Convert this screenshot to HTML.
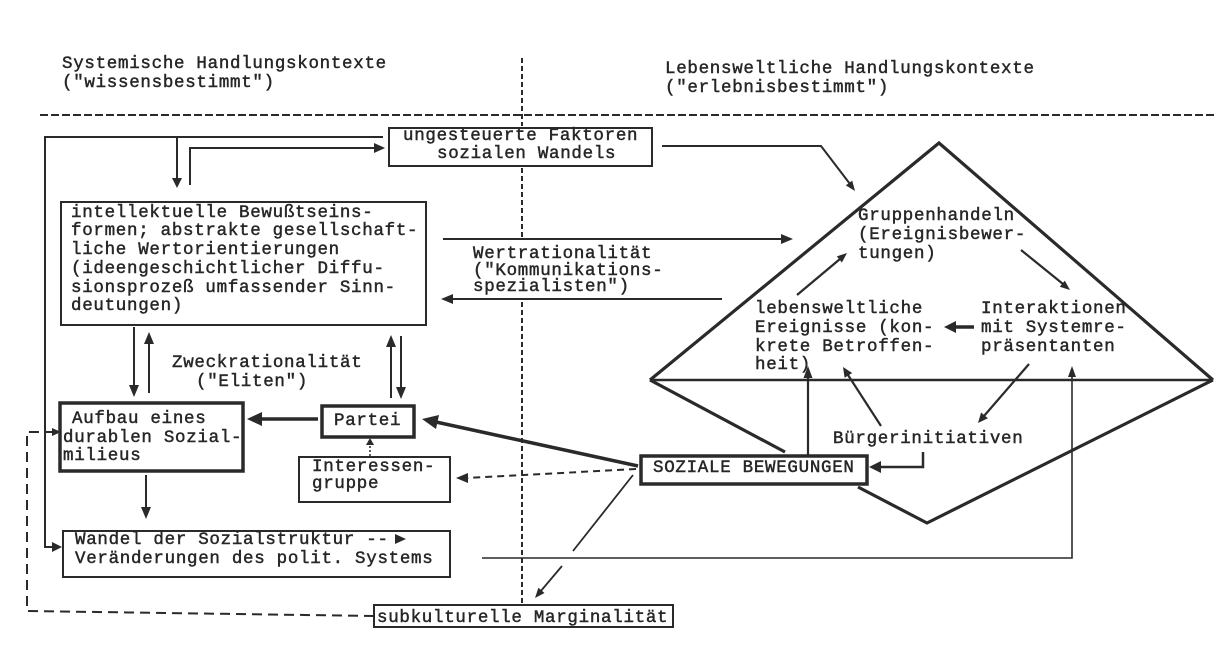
<!DOCTYPE html>
<html>
<head>
<meta charset="utf-8">
<style>
html,body{margin:0;padding:0;background:#fff;}
svg{display:block;}
text{font-family:"Liberation Mono","DejaVu Sans Mono",monospace;font-size:17.5px;letter-spacing:0.7px;fill:#262626;stroke:#262626;stroke-width:0.45px;}
</style>
</head>
<body>
<svg width="1224" height="664" viewBox="0 0 1224 664" xmlns="http://www.w3.org/2000/svg">
<rect width="1224" height="664" fill="#fff"/>

<!-- Header -->
<text x="62" y="68">Systemische Handlungskontexte</text>
<text x="62" y="87">("wissensbestimmt")</text>
<text x="665" y="73">Lebensweltliche Handlungskontexte</text>
<text x="665" y="92">("erlebnisbestimmt")</text>

<g stroke="#2a2a2a" fill="none">
  <line x1="40" y1="115" x2="1215" y2="115" stroke-width="2" stroke-dasharray="8,3"/>
  <!-- vertical divider -->
  <line x1="522" y1="58" x2="522" y2="126" stroke-width="2" stroke-dasharray="5,3"/>
  <line x1="522" y1="168" x2="522" y2="237" stroke-width="2" stroke-dasharray="5,3"/>
  <line x1="522" y1="302" x2="522" y2="604" stroke-width="2" stroke-dasharray="5,3"/>
</g>

<!-- Box: ungesteuerte Faktoren -->
<rect x="389" y="128" width="263" height="38" fill="#fff" stroke="#2a2a2a" stroke-width="2"/>
<text x="403" y="140">ungesteuerte Faktoren</text>
<text x="437" y="158">sozialen Wandels</text>

<g stroke="#2a2a2a" fill="none" stroke-width="2">
  <polyline points="383,137 45,137 45,547 53,547"/>
  <line x1="177" y1="137" x2="177" y2="179"/>
  <polyline points="190,185 190,148 375,148"/>
</g>
<g fill="#2a2a2a">
  <polygon points="62,547 52,542 52,552"/>
  <polygon points="177,188 172,178 182,178"/>
  <polygon points="385,148 374,143 374,153"/>
</g>

<!-- Box: intellektuelle -->
<rect x="61" y="202" width="365" height="123" fill="none" stroke="#2a2a2a" stroke-width="2"/>
<text x="71" y="217">intellektuelle Bewußtseins-</text>
<text x="71" y="235">formen; abstrakte gesellschaft-</text>
<text x="71" y="254">liche Wertorientierungen</text>
<text x="71" y="273">(ideengeschichtlicher Diffu-</text>
<text x="71" y="292">sionsprozeß umfassender Sinn-</text>
<text x="71" y="310">deutungen)</text>

<!-- Wertrationalität -->
<g stroke="#2a2a2a" stroke-width="2">
  <line x1="443" y1="239" x2="782" y2="239"/>
  <line x1="722" y1="299" x2="452" y2="299"/>
</g>
<g fill="#2a2a2a">
  <polygon points="793,239 781,234 781,244"/>
  <polygon points="441,299 453,294 453,304"/>
</g>
<text x="473" y="258">Wertrationalität</text>
<text x="473" y="275">("Kommunikations-</text>
<text x="473" y="291">spezialisten")</text>

<!-- double arrows -->
<g stroke="#2a2a2a" stroke-width="2">
  <line x1="134" y1="327" x2="134" y2="386"/>
  <line x1="149" y1="393" x2="149" y2="342"/>
  <line x1="391" y1="398" x2="391" y2="345"/>
  <line x1="401" y1="336" x2="401" y2="389"/>
</g>
<g fill="#2a2a2a">
  <polygon points="134,397 129,385 139,385"/>
  <polygon points="149,332 144,344 154,344"/>
  <polygon points="391,335 386,347 396,347"/>
  <polygon points="401,399 396,387 406,387"/>
</g>
<text x="172" y="367">Zweckrationalität</text>
<text x="196" y="386">("Eliten")</text>

<!-- Aufbau box -->
<rect x="60" y="403" width="183" height="68" fill="none" stroke="#2a2a2a" stroke-width="3.5"/>
<text x="72" y="423">Aufbau eines</text>
<text x="63" y="442">durablen Sozial-</text>
<text x="63" y="460">milieus</text>

<!-- Partei -->
<line x1="318" y1="419" x2="258" y2="419" stroke="#2a2a2a" stroke-width="3.5"/>
<polygon points="247,419 262,412 262,426" fill="#2a2a2a"/>
<rect x="322" y="406" width="92" height="31" fill="none" stroke="#2a2a2a" stroke-width="3.5"/>
<text x="334" y="425">Partei</text>

<line x1="370" y1="456" x2="370" y2="444" stroke="#2a2a2a" stroke-width="1.5" stroke-dasharray="2,2"/>
<polygon points="370,438 366,445 374,445" fill="#2a2a2a"/>

<!-- Interessengruppe -->
<rect x="299" y="457" width="151" height="45" fill="none" stroke="#2a2a2a" stroke-width="2"/>
<text x="312" y="471">Interessen-</text>
<text x="312" y="488">gruppe</text>

<line x1="146" y1="475" x2="146" y2="509" stroke="#2a2a2a" stroke-width="2"/>
<polygon points="146,519 141,507 151,507" fill="#2a2a2a"/>

<!-- Wandel box -->
<rect x="63" y="531" width="387" height="46" fill="none" stroke="#2a2a2a" stroke-width="2"/>
<text x="75" y="544">Wandel der Sozialstruktur --</text>
<polygon points="406,539 395,534 395,544" fill="#2a2a2a"/>
<text x="75" y="563">Veränderungen des polit. Systems</text>

<!-- long return line -->
<polyline points="482,558 1072,558 1072,376" fill="none" stroke="#2a2a2a" stroke-width="1.6"/>
<polygon points="1072,366 1068,377 1076,377" fill="#2a2a2a"/>

<!-- subkulturelle -->
<rect x="374" y="605" width="299" height="22" fill="#fff" stroke="#2a2a2a" stroke-width="2"/>
<text x="377" y="622">subkulturelle Marginalität</text>

<polyline points="374,616 27,611 27,432 52,432" fill="none" stroke="#2a2a2a" stroke-width="2" stroke-dasharray="10,6"/>
<polygon points="61,432 52,428 52,436" fill="#2a2a2a"/>

<!-- from SOZIALE BEWEGUNGEN -->
<line x1="638" y1="466" x2="436" y2="422" stroke="#2a2a2a" stroke-width="3.5"/>
<polygon points="422,419 439,415 436,429" fill="#2a2a2a"/>
<line x1="636" y1="469" x2="467" y2="478" stroke="#2a2a2a" stroke-width="2" stroke-dasharray="7,5"/>
<polygon points="456,478 468,473 468,483" fill="#2a2a2a"/>
<line x1="633" y1="475" x2="573" y2="551" stroke="#2a2a2a" stroke-width="1.8"/>
<line x1="562" y1="566" x2="540" y2="592" stroke="#2a2a2a" stroke-width="1.8"/>
<polygon points="535,598 544.5,593 538.4,587.8" fill="#2a2a2a"/>

<!-- Diamond -->
<g stroke="#2a2a2a" fill="none" stroke-width="3.2" stroke-linejoin="miter">
  <polyline points="650,380 939,143 1213,380"/>
  <line x1="650" y1="380" x2="785" y2="452"/>
  <polyline points="858,487 927,523 1213,380"/>
</g>
<line x1="650" y1="380" x2="1213" y2="380" stroke="#2a2a2a" stroke-width="2.5"/>

<rect x="641" y="456" width="226" height="28" fill="#fff" stroke="#2a2a2a" stroke-width="3.5"/>
<text x="653" y="472">SOZIALE BEWEGUNGEN</text>

<!-- arrow from ungesteuerte -->
<polyline points="662,146 821,146 850,184" fill="none" stroke="#2a2a2a" stroke-width="2"/>
<polygon points="855,191 845.8,185.4 852.2,180.6" fill="#2a2a2a"/>

<!-- inside diamond texts -->
<text x="858" y="220">Gruppenhandeln</text>
<text x="858" y="239">(Ereignisbewer-</text>
<text x="858" y="258">tungen)</text>
<text x="755" y="313">lebensweltliche</text>
<text x="755" y="332">Ereignisse (kon-</text>
<text x="755" y="351">krete Betroffen-</text>
<text x="755" y="369">heit)</text>
<text x="981" y="313">Interaktionen</text>
<text x="981" y="332">mit Systemre-</text>
<text x="981" y="351">präsentanten</text>
<text x="833" y="443">Bürgerinitiativen</text>

<g stroke="#2a2a2a" stroke-width="2.2" fill="none">
  <line x1="797" y1="295" x2="840" y2="259"/>
  <line x1="1021" y1="250" x2="1063" y2="284"/>
  <line x1="974" y1="327" x2="954" y2="327" stroke-width="3.5"/>
  <line x1="808" y1="455" x2="808" y2="376"/>
  <line x1="881" y1="426" x2="848" y2="375"/>
  <line x1="1029" y1="364" x2="984" y2="416"/>
  <polyline points="923,452 923,467 880,467" stroke-width="2.5"/>
</g>
<g fill="#2a2a2a">
  <polygon points="847,253 841.9,262.5 836.8,256.4"/>
  <polygon points="1070,290 1059.8,286.8 1064.8,280.6"/>
  <polygon points="944,327 956,321 956,333"/>
  <polygon points="808,366 803.5,378 812.5,378"/>
  <polygon points="843,367 852.2,373 844.6,377.8"/>
  <polygon points="978,423 987.9,418.3 981.1,412.5"/>
  <polygon points="869,467 881,461 881,473"/>
</g>
</svg>
</body>
</html>
